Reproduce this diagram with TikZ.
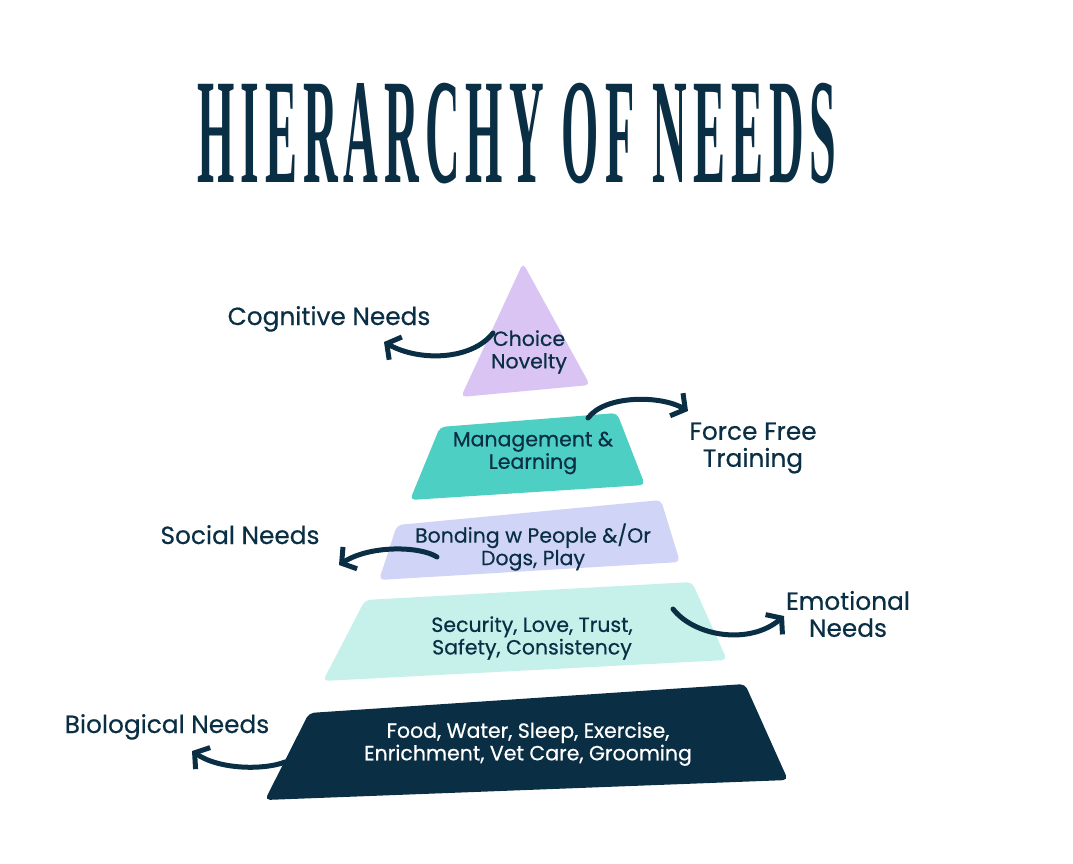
\documentclass[tikz,border=0pt]{standalone}
\usepackage{fontspec}
\setmainfont{Poppins}[FakeBold=0.5]
\newfontfamily\titlefont[FakeStretch=0.32, LetterSpace=4]{Liberation Serif}
\usetikzlibrary{arrows.meta, positioning}
\definecolor{navy}{HTML}{0A2E44}
\definecolor{lilac}{HTML}{D9C4F3}
\definecolor{teal}{HTML}{4DCFC3}
\definecolor{lavender}{HTML}{D0D5F7}
\definecolor{mint}{HTML}{C6F1EB}

\begin{document}
\begin{tikzpicture}[x=1pt, y=-1pt]

    \tikzset{
        layerText/.style={align=center, text=navy, font=\fontsize{20.5}{22.5}\selectfont},
        needLabel/.style={align=center, text=navy, font=\fontsize{24.8}{27}\selectfont},
        needArrow/.style={-{Straight Barb[length=10pt, width=26pt]}, line width=5pt, line cap=round, line join=round, draw=navy},
        layerShape/.style={rounded corners=5pt}
    }

    \useasboundingbox (0,0) rectangle (1073,864);

    % Titulo
    \node[text=navy, font=\titlefont\bfseries\fontsize{150}{150}\selectfont] (title) at (517,134) {HIERARCHY OF NEEDS};

    % Capas de la piramide
    \fill[lilac, layerShape] (523,263) -- (590,385) -- (461,397) -- cycle;
    \fill[teal, layerShape] (440,427) -- (617,413) -- (645,485) -- (410,500) -- cycle;
    \fill[lavender, layerShape] (397,525) -- (661,500) -- (680,562) -- (379,580) -- cycle;
    \fill[mint, layerShape] (365,600) -- (692,582) -- (727,660) -- (323,681) -- cycle;
    \fill[navy, layerShape] (309,713) -- (745,684) -- (788,780) -- (265,800) -- cycle;

    % Puntos de salida y llegada de las flechas
    \coordinate (cogStart) at (493,333);
    \coordinate (cogEnd) at (384,342);
    \coordinate (forceStart) at (588,418);
    \coordinate (forceEnd) at (688,411);
    \coordinate (socStart) at (437,557);
    \coordinate (socEnd) at (339,565);
    \coordinate (emoStart) at (673,609);
    \coordinate (emoEnd) at (784,616);
    \coordinate (bioStart) at (285,762);
    \coordinate (bioEnd) at (192,751);

    % Flechas
    \draw[needArrow] (cogStart) .. controls (472,360) and (420,362) .. (cogEnd);
    \draw[needArrow] (forceStart) .. controls (605,395) and (660,395) .. (forceEnd);
    \draw[needArrow] (socStart) .. controls (420,546) and (370,545) .. (socEnd);
    \draw[needArrow] (emoStart) .. controls (695,637) and (750,645) .. (emoEnd);
    \draw[needArrow] (bioStart) .. controls (265,770) and (220,770) .. (bioEnd);

    % Textos de las capas
    \node[layerText] (choice) at (529,352) {Choice\\Novelty};
    \node[layerText] (manage) at (533,453) {Management \&\\Learning};
    \node[layerText] (bonding) at (533,547) {Bonding w People \&/Or\\Dogs, Play};
    \node[layerText] (security) at (532,638) {Security, Love, Trust,\\Safety, Consistency};
    \node[layerText, text=white] (food) at (528,744) {Food, Water, Sleep, Exercise,\\Enrichment, Vet Care, Grooming};

    % Etiquetas de necesidades
    \node[needLabel, anchor=base] (cognitive) at (329,325) {Cognitive Needs};
    \node[needLabel] (forcefree) at (753,448) {Force Free\\Training};
    \node[needLabel, anchor=base] (social) at (240,544) {Social Needs};
    \node[needLabel] (emotional) at (848,614) {Emotional\\Needs};
    \node[needLabel, anchor=base] (biological) at (167,733) {Biological Needs};

\end{tikzpicture}
\end{document}
